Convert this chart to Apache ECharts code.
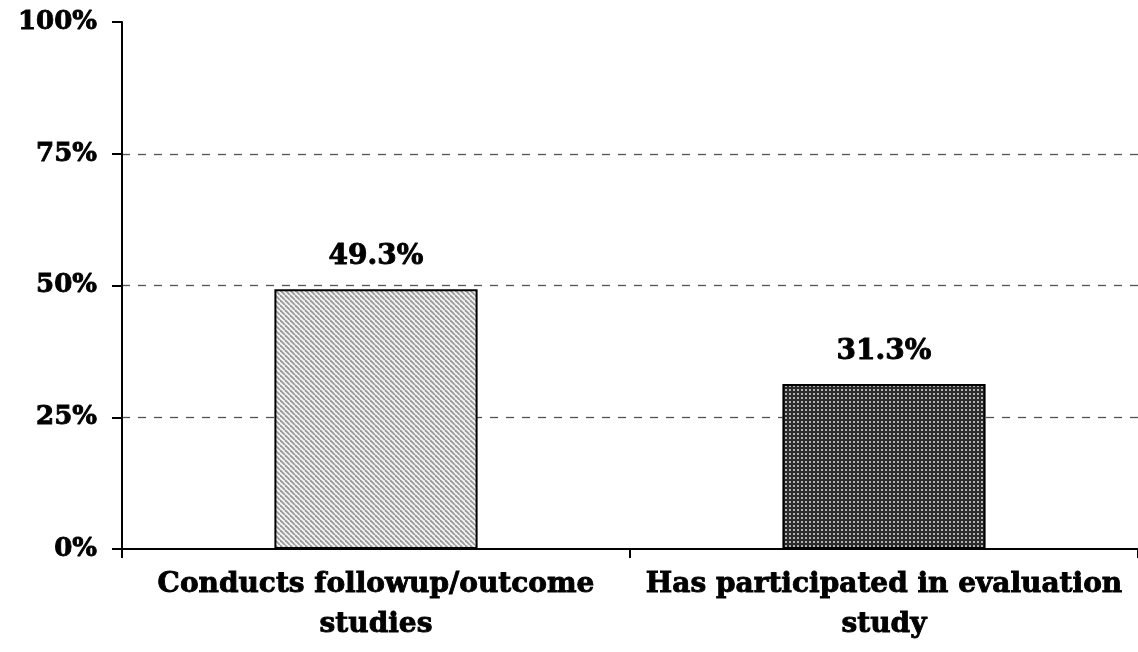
<!DOCTYPE html>
<html><head><meta charset="utf-8">
<script src="https://cdn.jsdelivr.net/npm/echarts@6/dist/echarts.min.js"></script>
<style>html,body{margin:0;padding:0;background:#fff}#c{width:1138px;height:652px}</style>
</head><body><div id="c"></div>
<script>
const categories = ['Conducts followup/outcome\nstudies', 'Has participated in evaluation\nstudy'];
const values = [49.3, 31.3];
const valueLabels = ['49.3%', '31.3%'];

function stripePattern() {
  const c = document.createElement('canvas'); c.width = 5; c.height = 5;
  const g = c.getContext('2d');
  g.fillStyle = '#f4f4f4'; g.fillRect(0, 0, 5, 5);
  g.strokeStyle = '#999999'; g.lineWidth = 1.8;
  for (let k = -5; k <= 10; k += 5) {
    g.beginPath(); g.moveTo(k, 0); g.lineTo(k + 5, 5); g.stroke();
  }
  return c;
}
function dotPattern() {
  const c = document.createElement('canvas'); c.width = 4; c.height = 4;
  const g = c.getContext('2d');
  g.fillStyle = '#2b2b2b'; g.fillRect(0, 0, 4, 4);
  g.fillStyle = '#b0b0b0'; g.fillRect(1, 1, 2, 2);
  return c;
}
const fills = [stripePattern(), dotPattern()];
const font = '"DejaVu Serif", serif';
const heavy = { textBorderColor: '#000', textBorderWidth: 0.9 };

const chart = echarts.init(document.getElementById('c'));
chart.setOption({
  animation: false,
  grid: { left: 122, right: 0, top: 22, bottom: 103, containLabel: false },
  xAxis: {
    type: 'category', data: categories,
    axisLine: { lineStyle: { color: '#000', width: 2 } },
    axisTick: { show: true, length: 9, lineStyle: { color: '#000', width: 2 } },
    axisLabel: Object.assign({ interval: 0, color: '#000', fontFamily: font, fontWeight: 'bold', fontSize: 28, lineHeight: 40, margin: 16 }, heavy)
  },
  yAxis: {
    type: 'value', min: 0, max: 100, interval: 25,
    axisLine: { show: true, lineStyle: { color: '#000', width: 2 } },
    axisTick: { show: true, length: 10, lineStyle: { color: '#000', width: 2 } },
    axisLabel: Object.assign({ color: '#000', fontFamily: font, fontWeight: 'bold', fontSize: 26, margin: 25, formatter: '{value}%' }, heavy),
    splitLine: { show: true, lineStyle: { type: [8, 8], width: 1.3, color: ['transparent', '#555', '#555', '#555', 'transparent'] } }
  },
  series: [{
    type: 'bar', barWidth: '40%',
    data: values.map((v, i) => ({
      value: v,
      itemStyle: { color: { image: fills[i], repeat: 'repeat' }, borderColor: '#000', borderWidth: 2 },
      label: { show: true, position: 'top', distance: 18, formatter: valueLabels[i] }
    })),
    label: Object.assign({ color: '#000', fontFamily: font, fontWeight: 'bold', fontSize: 28 }, heavy)
  }]
});
</script></body></html>
